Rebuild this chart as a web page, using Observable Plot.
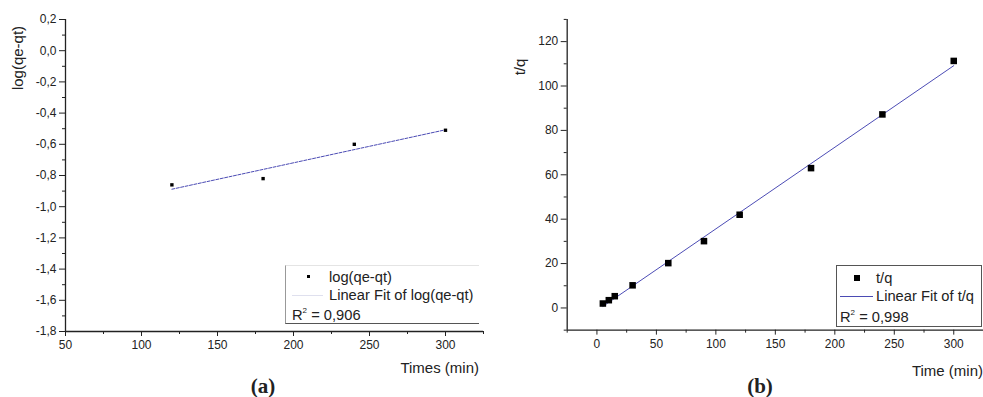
<!DOCTYPE html>
<html>
<head>
<meta charset="utf-8">
<script src="https://cdn.jsdelivr.net/npm/d3@7"></script>
<script src="https://cdn.jsdelivr.net/npm/@observablehq/plot@0.6"></script>
<style>
  html, body { margin: 0; padding: 0; background: #fff; overflow: hidden; }
  #wrap { position: relative; width: 983px; height: 397px; font-family: "Liberation Sans", Arial, sans-serif; color: #222; }
  .panel { position: absolute; top: 0; }
  .t { position: absolute; white-space: nowrap; line-height: 1; }
  .lbl { font-size: 15px; }
  .rot { transform: translate(-50%, -50%) rotate(-90deg); }
  .letter { font-family: "Liberation Serif", "Times New Roman", serif; font-weight: bold; font-size: 21px; transform: translate(-50%, -50%); }
  .leg { font-size: 14.7px; transform: translateY(-50%); }
  .box { position: absolute; box-sizing: border-box; }
</style>
</head>
<body>
<div id="wrap">
  <div id="pa" class="panel" style="left:0"></div>
  <div id="pb" class="panel" style="left:490px"></div>
</div>
<script>
// ---- data (a): pseudo-first-order ----
const timesA = [120, 180, 240, 300];
const logQeQt = [-0.86, -0.82, -0.60, -0.51];
const xTicksA = [50, 100, 150, 200, 250, 300];
const xMinorA = [75, 125, 175, 225, 275, 325];
const yTicksA = [0.2, 0.0, -0.2, -0.4, -0.6, -0.8, -1.0, -1.2, -1.4, -1.6, -1.8];
const yMinorA = [0.1, -0.1, -0.3, -0.5, -0.7, -0.9, -1.1, -1.3, -1.5, -1.7];

// ---- data (b): pseudo-second-order ----
const timesB = [5, 10, 15, 30, 60, 90, 120, 180, 240, 300];
const tOverQ = [2.0, 3.5, 5.3, 10.2, 20.2, 30.1, 42.0, 63.0, 87.2, 111.3];
const xTicksB = [0, 50, 100, 150, 200, 250, 300];
const xMinorB = [-25, 25, 75, 125, 175, 225, 275, 325];
const yTicksB = [0, 20, 40, 60, 80, 100, 120];
const yMinorB = [-10, 10, 30, 50, 70, 90, 110, 130];

const comma = d => d.toFixed(1).replace(".", ",");
const fitColor = "#4b4bb4";
const axisColor = "#222";

const dataA = timesA.map((t, i) => ({t, v: logQeQt[i]}));
const dataB = timesB.map((t, i) => ({t, v: tOverQ[i]}));

const baseStyle = {fontFamily: "Liberation Sans, Arial, sans-serif", fontSize: "12px", color: "#222", background: "transparent"};

const plotA = Plot.plot({
  width: 490, height: 397,
  marginLeft: 65, marginRight: 7, marginTop: 19, marginBottom: 66,
  style: baseStyle,
  x: {domain: [50, 325]},
  y: {domain: [-1.8, 0.2]},
  marks: [
    Plot.axisX({ticks: xTicksA, tickSize: 5, tickPadding: 4, label: null, stroke: axisColor}),
    Plot.axisX({ticks: xMinorA, tickSize: 3, tickFormat: () => "", label: null, stroke: axisColor}),
    Plot.axisY({ticks: yTicksA, tickSize: 6, tickPadding: 3, tickFormat: comma, label: null, stroke: axisColor}),
    Plot.axisY({ticks: yMinorA, tickSize: 3, tickFormat: () => "", label: null, stroke: axisColor}),
    Plot.ruleX([50], {stroke: axisColor, strokeWidth: 1.3}),
    Plot.ruleY([-1.8], {stroke: axisColor, strokeWidth: 1.3}),
    Plot.linearRegressionY(dataA, {x: "t", y: "v", ci: 0, stroke: fitColor, strokeWidth: 1, strokeDasharray: "3,1.5"}),
    Plot.dot(dataA, {x: "t", y: "v", symbol: "square", r: 1.9, fill: "#000", stroke: null})
  ]
});
document.getElementById("pa").append(plotA);

const plotB = Plot.plot({
  width: 495, height: 397,
  marginLeft: 77, marginRight: 0, marginTop: 19, marginBottom: 66,
  style: baseStyle,
  x: {domain: [-25, 325]},
  y: {domain: [-10, 130]},
  marks: [
    Plot.axisX({ticks: xTicksB, tickSize: 5, tickPadding: 4, label: null, stroke: axisColor}),
    Plot.axisX({ticks: xMinorB, tickSize: 3, tickFormat: () => "", label: null, stroke: axisColor}),
    Plot.axisY({ticks: yTicksB, tickSize: 6, tickPadding: 3, tickFormat: d => String(d), label: null, stroke: axisColor}),
    Plot.axisY({ticks: yMinorB, tickSize: 3, tickFormat: () => "", label: null, stroke: axisColor}),
    Plot.ruleX([-25], {stroke: axisColor, strokeWidth: 1.3}),
    Plot.ruleY([-10], {stroke: axisColor, strokeWidth: 1.3}),
    Plot.linearRegressionY(dataB, {x: "t", y: "v", ci: 0, stroke: fitColor, strokeWidth: 1}),
    Plot.dot(dataB, {x: "t", y: "v", symbol: "square", r: 3.7, fill: "#000", stroke: null})
  ]
});
document.getElementById("pb").append(plotB);

// ---- text annotations and legends ----
const wrap = document.getElementById("wrap");
function addText(txt, x, y, cls, html) {
  const d = document.createElement("div");
  d.className = "t " + cls;
  d.style.left = x + "px"; d.style.top = y + "px";
  if (html) d.innerHTML = txt; else d.textContent = txt;
  wrap.append(d);
  return d;
}
function addBox(x, y, w, h, css) {
  const d = document.createElement("div");
  d.className = "box";
  d.style.left = x + "px"; d.style.top = y + "px";
  d.style.width = w + "px"; d.style.height = h + "px";
  Object.assign(d.style, css);
  wrap.append(d);
  return d;
}

// panel (a)
addText("log(qe-qt)", 17, 58, "lbl rot");
const ta = addText("Times (min)", 479, 367, "lbl");
ta.style.transform = "translate(-100%, -50%)";
addText("(a)", 263, 386, "letter");
addBox(285, 265, 194, 59, {borderLeft: "1px solid #999", borderBottom: "1.5px solid #555", borderTop: "1px solid #e4e4e4"});
addBox(307, 274.5, 3, 3, {background: "#000"});
addText("log(qe-qt)", 329, 277, "leg");
addBox(292, 295, 31, 1, {background: "#dfe0ee"});
addText("Linear Fit of log(qe-qt)", 329, 295, "leg");
addText("R<sup style='font-size:8px;vertical-align:7px'>2</sup> = 0,906", 292, 315, "leg", true);

// panel (b)
addText("t/q", 519, 67, "lbl rot");
const tb = addText("Time (min)", 983, 370, "lbl");
tb.style.transform = "translate(-100%, -50%)";
addText("(b)", 760, 386, "letter");
addBox(836, 265, 146, 62, {border: "1.5px solid #555"});
addBox(854, 275, 6, 6, {background: "#000"});
addText("t/q", 876, 278, "leg");
addBox(840, 295.5, 33, 1, {background: fitColor});
addText("Linear Fit of t/q", 876, 296, "leg");
addText("R<sup style='font-size:8px;vertical-align:7px'>2</sup> = 0,998", 840, 317, "leg", true);
</script>
</body>
</html>
